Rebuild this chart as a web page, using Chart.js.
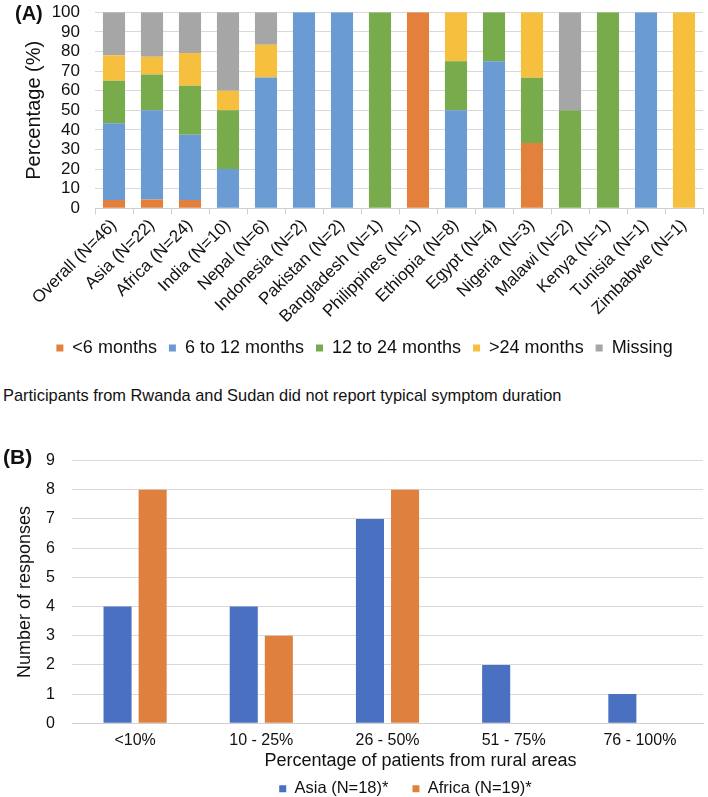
<!DOCTYPE html>
<html>
<head>
<meta charset="utf-8">
<script src="https://cdn.jsdelivr.net/npm/chart.js@4.4.0/dist/chart.umd.min.js"></script>
<style>
  html, body { margin: 0; padding: 0; background: #fff; width: 708px; height: 797px; overflow: hidden;
    font-family: "Liberation Sans", Arial, sans-serif; color: #111; }
  .panel { position: absolute; left: 0; width: 708px; }
  #wrapA { top: -13px; height: 381px; }
  #wrapB { top: 434px; height: 388px; }
  .tag { position: absolute; font-weight: bold; color: #111; line-height: 1; }
  #tagA { left: 15px; top: 3px; font-size: 20px; }
  #tagB { left: 3px; top: 446px; font-size: 21px; }
  #note { position: absolute; left: 3px; top: 386px; font-size: 16.4px; line-height: 1.2; }
</style>
</head>
<body>
<div class="panel" id="wrapA"><canvas id="chartA"></canvas></div>
<div class="tag" id="tagA">(A)</div>
<div id="note">Participants from Rwanda and Sudan did not report typical symptom duration</div>
<div class="panel" id="wrapB"><canvas id="chartB"></canvas></div>
<div class="tag" id="tagB">(B)</div>

<script>
// ---- (A) typical symptom duration, % of participants ----
const groups = ['Overall (N=46)', 'Asia (N=22)', 'Africa (N=24)', 'India (N=10)', 'Nepal (N=6)',
  'Indonesia (N=2)', 'Pakistan (N=2)', 'Bangladesh (N=1)', 'Philippines (N=1)', 'Ethiopia (N=8)',
  'Egypt (N=4)', 'Nigeria (N=3)', 'Malawi (N=2)', 'Kenya (N=1)', 'Tunisia (N=1)', 'Zimbabwe (N=1)'];
const under6 =     [4.3, 4.5, 4.2, 0, 0,    0,   0,   0,   100, 0,  0,  33.3, 0,  0,   0,   0];
const sixTo12 =    [39.1, 45.5, 33.3, 20, 66.7, 100, 100, 0, 0,   50, 75, 0,    0,  0,   100, 0];
const twelveTo24 = [21.7, 18.2, 25.0, 30, 0,    0,   0,   100, 0, 25, 25, 33.3, 50, 100, 0,   0];
const over24 =     [13.0, 9.1, 16.7, 10, 16.7, 0,   0,   0,   0,  25, 0,  33.4, 0,  0,   0,   100];
const missing =    [21.9, 22.7, 20.8, 40, 16.6, 0,   0,   0,   0,  0,  0,  0,    50, 0,   0,   0];
const durationLabels = ['<6 months', '6 to 12 months', '12 to 24 months', '>24 months', 'Missing'];

// ---- (B) percentage of patients from rural areas ----
const ruralBands = ['<10%', '10 - 25%', '26 - 50%', '51 - 75%', '76 - 100%'];
const asiaCounts = [4, 4, 7, 2, 1];
const africaCounts = [8, 3, 8, 0, 0];
const regionLabels = ['Asia (N=18)*', 'Africa (N=19)*'];

const COLORS = {
  orange: '#E3803C',
  blue: '#6A9BD3',
  green: '#78AB4C',
  yellow: '#F6BF3E',
  gray: '#A6A6A6',
  blueB: '#4A70C2',
  orangeB: '#E0803F',
  grid: '#D9D9D9',
  axis: '#CFCFCF',
  text: '#111111'
};

Chart.defaults.font.family = '"Liberation Sans", Arial, sans-serif';
Chart.defaults.color = COLORS.text;
Chart.defaults.animation = false;

// moves the legend after layout (Excel places it off the plot centre)
const legendShift = {
  id: 'legendShift',
  afterLayout(chart, args, opts) {
    const lg = chart.legend;
    if (!lg) return;
    const dx = opts.dx || 0, dy = opts.dy || 0;
    lg.left += dx; lg.right += dx;
    lg.top += dy; lg.bottom += dy;
  }
};

// x axis title for panel B, drawn a bit right of the plot centre like the original
const xTitleB = {
  id: 'xTitleB',
  afterDraw(chart, args, opts) {
    if (!opts.text) return;
    const { ctx, chartArea } = chart;
    const sx = chart.scales.x;
    ctx.save();
    ctx.font = opts.size + 'px "Liberation Sans", Arial, sans-serif';
    ctx.fillStyle = COLORS.text;
    ctx.textAlign = 'center';
    ctx.textBaseline = 'middle';
    ctx.fillText(opts.text, (chartArea.left + chartArea.right) / 2 + opts.dx, sx.bottom - opts.up);
    ctx.restore();
  }
};

function stackSet(label, data, color) {
  return { label, data, backgroundColor: color, borderWidth: 0, stack: 'dur' };
}

new Chart(document.getElementById('chartA'), {
  type: 'bar',
  data: {
    labels: groups,
    datasets: [
      stackSet(durationLabels[0], under6, COLORS.orange),
      stackSet(durationLabels[1], sixTo12, COLORS.blue),
      stackSet(durationLabels[2], twelveTo24, COLORS.green),
      stackSet(durationLabels[3], over24, COLORS.yellow),
      stackSet(durationLabels[4], missing, COLORS.gray)
    ]
  },
  options: {
    responsive: true,
    maintainAspectRatio: false,
    categoryPercentage: 0.6,
    barPercentage: 0.97,
    layout: { padding: { top: 4, right: 5, left: 0, bottom: 0 } },
    plugins: {
      legend: {
        position: 'bottom',
        labels: { boxWidth: 7, boxHeight: 7, padding: 12, font: { size: 18 } }
      },
      legendShift: { dx: 13, dy: -1 },
      tooltip: { enabled: false }
    },
    scales: {
      x: {
        stacked: true,
        grid: { display: true, drawOnChartArea: false, drawTicks: true, tickLength: 6, color: COLORS.axis },
        border: { color: COLORS.axis },
        ticks: { autoSkip: false, minRotation: 45, maxRotation: 45, padding: 1, font: { size: 17 } }
      },
      y: {
        stacked: true,
        min: 0,
        max: 100,
        ticks: { stepSize: 10, autoSkip: false, padding: 15, font: { size: 17 } },
        grid: { color: COLORS.grid, drawTicks: false },
        border: { display: false },
        title: { display: true, text: 'Percentage (%)', font: { size: 20 }, padding: { top: 22, bottom: 0 } },
        afterFit(scale) { scale.width = 95; }
      }
    }
  },
  plugins: [legendShift]
});

new Chart(document.getElementById('chartB'), {
  type: 'bar',
  data: {
    labels: ruralBands,
    datasets: [
      { label: regionLabels[0], data: asiaCounts, backgroundColor: COLORS.blueB, borderWidth: 0 },
      { label: regionLabels[1], data: africaCounts, backgroundColor: COLORS.orangeB, borderWidth: 0 }
    ]
  },
  options: {
    responsive: true,
    maintainAspectRatio: false,
    categoryPercentage: 0.556,
    barPercentage: 0.8,
    layout: { padding: { top: 10, right: 5, left: 0, bottom: 0 } },
    plugins: {
      legend: {
        position: 'bottom',
        labels: { boxWidth: 7, boxHeight: 7, padding: 24, font: { size: 16.5 } }
      },
      legendShift: { dx: 54, dy: -15 },
      xTitleB: { text: 'Percentage of patients from rural areas', size: 18, dx: 33, up: 10 },
      tooltip: { enabled: false }
    },
    scales: {
      x: {
        grid: { display: false, drawTicks: false },
        border: { color: COLORS.axis },
        ticks: { padding: 8, font: { size: 16 } },
        afterFit(scale) { scale.height += 13; }
      },
      y: {
        min: 0,
        max: 9,
        ticks: { stepSize: 1, autoSkip: false, padding: 17, font: { size: 16 } },
        grid: { color: COLORS.grid, drawTicks: false },
        border: { display: false },
        title: { display: true, text: 'Number of responses', font: { size: 18 }, padding: { top: 14, bottom: 0 } },
        afterFit(scale) { scale.width = 72; }
      }
    }
  },
  plugins: [legendShift, xTitleB]
});
</script>
</body>
</html>
